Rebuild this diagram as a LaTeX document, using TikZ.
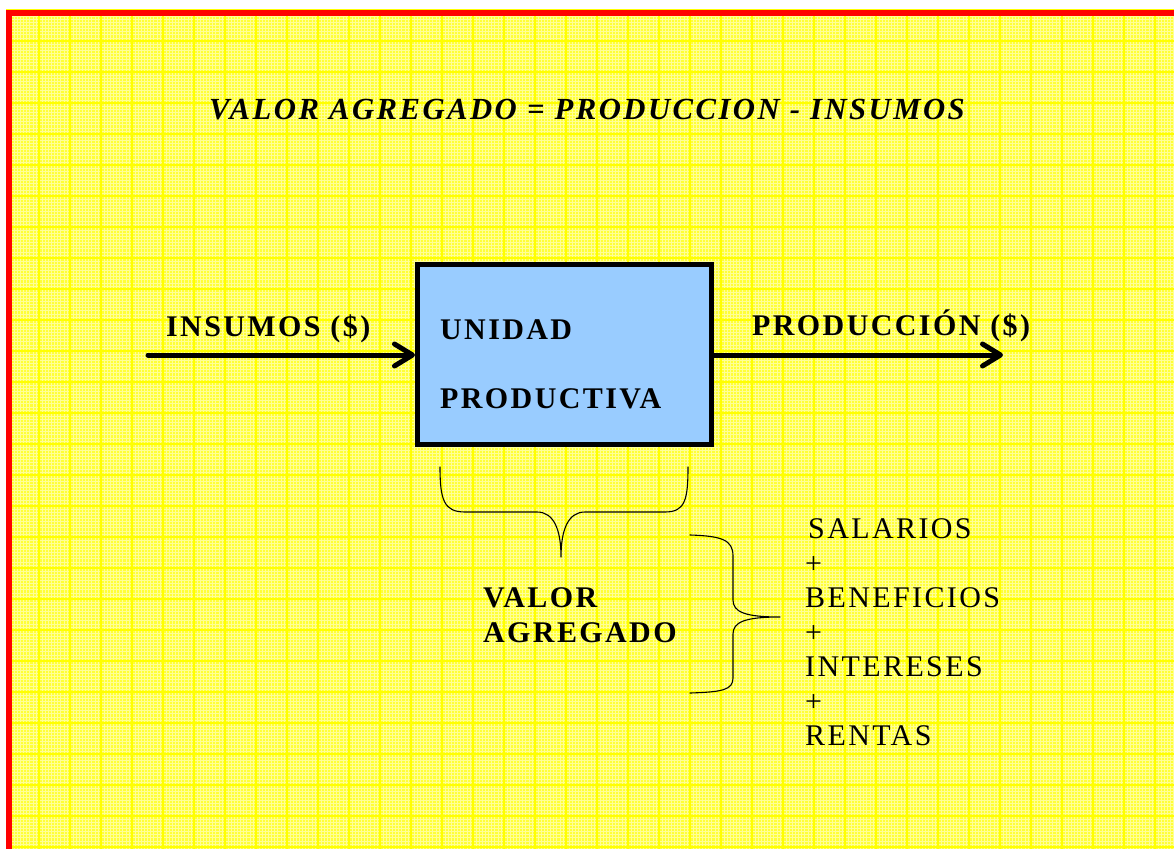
\documentclass[tikz,border=0pt]{standalone}
\usepackage{fontspec}
\setmainfont{Liberation Serif}
\newfontfamily\lsfont{Liberation Serif}[LetterSpace=8]
\usetikzlibrary{arrows.meta}
\definecolor{bgyellow}{RGB}{255,255,55}
\definecolor{minorgrid}{RGB}{255,255,150}
\definecolor{majorgrid}{RGB}{255,255,0}
\definecolor{boxblue}{RGB}{153,204,255}
\definecolor{frame}{RGB}{255,0,0}
\tikzset{
  lbl/.style={inner sep=0pt, anchor=base west, font=\lsfont\fontsize{30}{36}\selectfont},
  blbl/.style={lbl, font=\lsfont\bfseries\fontsize{30}{36}\selectfont},
  titlelbl/.style={inner sep=0pt, anchor=base, font=\lsfont\bfseries\itshape\fontsize{30.7}{36}\selectfont},
  flow/.style={line width=5pt, line cap=round, -{Straight Barb[length=18pt,width=22pt,round]}},
  brace/.style={line width=1.1pt, line cap=round, line join=round},
  unitbox/.style={draw, line width=5pt, fill=boxblue, minimum width=294pt, minimum height=180pt, inner sep=0pt}
}
\begin{document}
\begin{tikzpicture}[x=1pt,y=-1pt]
\useasboundingbox (0,0) rectangle (1174,848);
\fill[white] (0,0) rectangle (1174,848);
\begin{scope}
\clip (0,0) rectangle (1174,848);
\fill[bgyellow] (6,10) rectangle (1190,860);
\foreach \i in {0,...,380} {
  \draw[minorgrid, line width=0.6pt] ({8+3.1*\i},10) -- ({8+3.1*\i},860);
}
\foreach \i in {0,...,275} {
  \draw[minorgrid, line width=0.6pt] (6,{10+3.1*\i}) -- (1190,{10+3.1*\i});
}
\foreach \i in {0,...,38} {
  \draw[majorgrid, line width=1.2pt] ({8+31*\i},10) -- ({8+31*\i},860);
}
\foreach \i in {0,...,27} {
  \draw[majorgrid, line width=1.2pt] (6,{10+31*\i}) -- (1190,{10+31*\i});
}
\draw[frame, line width=6pt] (9,13) rectangle (1200,880);
\end{scope}

% title
\node[titlelbl] (title) at (587,120) {VALOR AGREGADO = PRODUCCION - INSUMOS};

% box
\node[unitbox] (box) at (564.5,354.5) {};
\node[blbl] (unidad) at (440,339) {UNIDAD};
\node[blbl] (productiva) at (440,408) {PRODUCTIVA};

% arrows
\coordinate (inStart) at (148,355);
\coordinate (outEnd) at (1003,355);
\draw[flow] (inStart) -- (box.west |- inStart);
\draw[flow] (box.east |- outEnd) -- (outEnd);
\node[blbl] (insumos) at (166,336) {INSUMOS (\$)};
\node[blbl] (produccion) at (752,335) {PRODUCCIÓN (\$)};

% lower brace
\draw[brace] (440,467) .. controls (440,500) and (444,512) .. (465,512)
  -- (537,512) .. controls (554,512) and (561,530) .. (561,557)
  .. controls (561,530) and (568,512) .. (585,512)
  -- (665,512) .. controls (685,512) and (688,500) .. (688,467);

\node[blbl] (valor) at (483,607) {VALOR};
\node[blbl] (agregado) at (483,642) {AGREGADO};

% right brace
\draw[brace] (690,535) .. controls (722,536) and (733,540) .. (733,556)
  -- (733,600) .. controls (733,612) and (745,617) .. (780,617)
  .. controls (745,617) and (733,622) .. (733,634)
  -- (733,678) .. controls (733,690) and (722,692) .. (690,693);

\node[lbl] (salarios) at (808,538) {SALARIOS};
\node[lbl] (plus1) at (805,573) {+};
\node[lbl] (beneficios) at (805,607) {BENEFICIOS};
\node[lbl] (plus2) at (805,642) {+};
\node[lbl] (intereses) at (805,676) {INTERESES};
\node[lbl] (plus3) at (805,711) {+};
\node[lbl] (rentas) at (805,745) {RENTAS};
\end{tikzpicture}
\end{document}
